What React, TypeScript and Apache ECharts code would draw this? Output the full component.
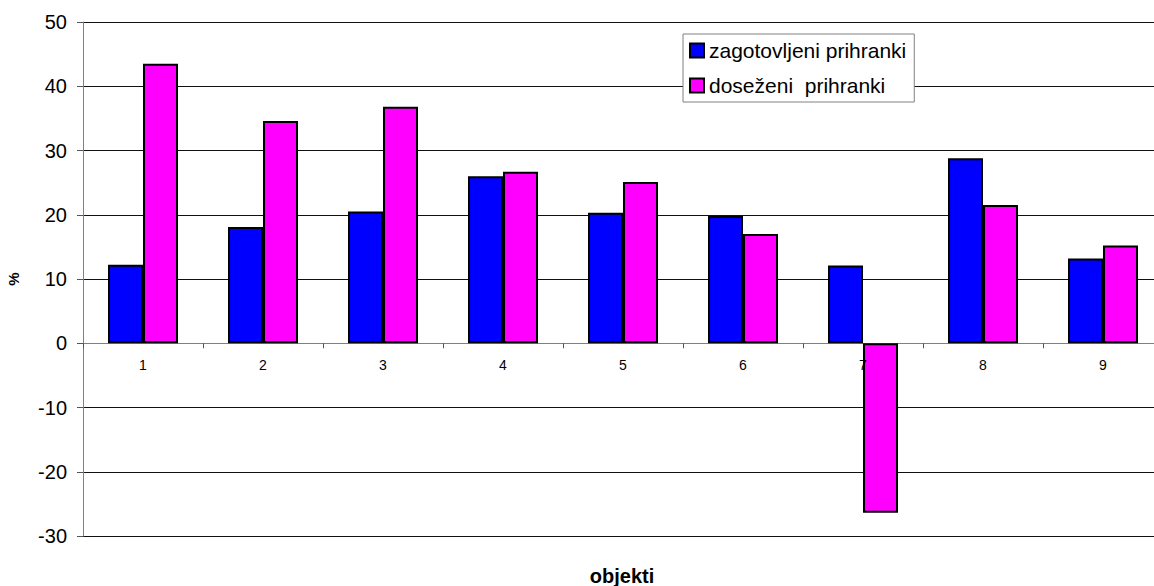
import React, { useEffect, useRef } from "react";
import * as echarts from "echarts";

const categories = ["1", "2", "3", "4", "5", "6", "7", "8", "9"];
const zagotovljeni = [12.2, 18.1, 20.5, 26.0, 20.3, 19.8, 12.1, 28.8, 13.2];
const dosezeni = [43.5, 34.6, 36.8, 26.7, 25.1, 17.0, -26.4, 21.5, 15.2];
const seriesNames = ["zagotovljeni prihranki", "doseženi  prihranki"];
const yMin = -30;
const yMax = 50;
const yStep = 10;

const FONT = "'Liberation Sans', Arial, sans-serif";
const GRID_H = 514;

export default function App() {
  const ref = useRef<HTMLDivElement>(null);
  useEffect(() => {
    if (!ref.current) return;
    const chart = echarts.init(ref.current, undefined, { renderer: "svg" });
    // offset of the category axis so that it sits on the zero line
    const zeroOffset = -GRID_H * ((0 - yMin) / (yMax - yMin));
    const xBase = {
      type: "category",
      data: categories,
      position: "bottom",
      offset: zeroOffset,
    };
    chart.setOption({
      animation: false,
      backgroundColor: "#ffffff",
      textStyle: { fontFamily: FONT },
      grid: {
        left: 83,
        top: 22,
        width: 1080,
        height: GRID_H,
        containLabel: false,
        outerBoundsMode: "none",
      },
      legend: {
        orient: "vertical",
        left: 683,
        top: 34,
        padding: [6, 8, 6, 6],
        itemGap: 14,
        itemWidth: 14,
        itemHeight: 14,
        backgroundColor: "#ffffff",
        borderColor: "#808080",
        borderWidth: 1,
        icon: "rect",
        textStyle: { fontSize: 21, color: "#000", fontFamily: FONT },
        data: seriesNames,
      },
      graphic: [
        {
          type: "text",
          x: 622,
          y: 576,
          style: {
            text: "objekti",
            fontSize: 20,
            fontWeight: "bold",
            fill: "#000",
            fontFamily: FONT,
            textAlign: "center",
            textVerticalAlign: "middle",
          },
        },
      ],
      xAxis: [
        {
          ...xBase,
          axisLine: { onZero: false, lineStyle: { color: "#808080", width: 1 } },
          axisTick: { show: true, length: 5, lineStyle: { color: "#555" } },
          axisLabel: { show: false },
          splitLine: { show: false },
        },
        {
          ...xBase,
          z: 10,
          axisLine: { show: false, onZero: false },
          axisTick: { show: false },
          axisLabel: { fontSize: 14, color: "#000", margin: 15, fontFamily: FONT },
          splitLine: { show: false },
        },
      ],
      yAxis: {
        type: "value",
        min: yMin,
        max: yMax,
        interval: yStep,
        name: "%",
        nameLocation: "middle",
        nameRotate: 90,
        nameGap: 62,
        nameTextStyle: { fontSize: 15, fontWeight: "bold", color: "#000", fontFamily: FONT },
        axisLine: { show: true, lineStyle: { color: "#808080", width: 1 } },
        axisTick: { show: true, length: 6, lineStyle: { color: "#555" } },
        axisLabel: { fontSize: 20, color: "#000", margin: 16, fontFamily: FONT },
        splitLine: { show: true, lineStyle: { color: "#111", width: 1 } },
      },
      series: [
        {
          name: seriesNames[0],
          type: "bar",
          xAxisIndex: 0,
          data: zagotovljeni,
          barWidth: 35,
          barGap: "0%",
          itemStyle: { color: "#0000ff", borderColor: "#000", borderWidth: 2 },
        },
        {
          name: seriesNames[1],
          type: "bar",
          xAxisIndex: 0,
          data: dosezeni,
          barWidth: 35,
          barGap: "0%",
          itemStyle: { color: "#ff00ff", borderColor: "#000", borderWidth: 2 },
        },
      ],
    });
    return () => chart.dispose();
  }, []);
  return (
    <div
      ref={ref}
      style={{ position: "absolute", left: 0, top: 0, width: 1154, height: 586 }}
    />
  );
}
